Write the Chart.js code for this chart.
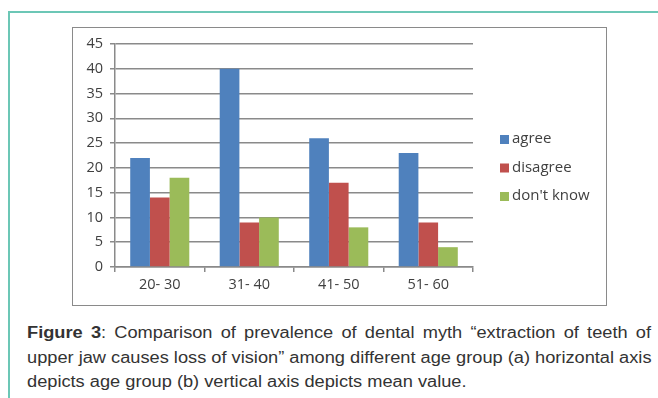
<!DOCTYPE html>
<html>
<head>
<meta charset="utf-8">
<script src="https://cdn.jsdelivr.net/npm/chart.js@4"></script>
<style>
  html, body { margin: 0; padding: 0; background: #fff; }
  body { width: 658px; height: 398px; position: relative; overflow: hidden; }
  #panel {
    position: absolute; left: 8px; top: 11px; width: 700px; height: 420px;
    border-left: 2px solid #6cc7b6; border-top: 2px solid #6cc7b6;
    box-sizing: border-box;
  }
  #frame {
    position: absolute; left: 72px; top: 27px; width: 535px; height: 279px;
    border: 1px solid #8a8a8a; box-sizing: border-box; background: #fff;
  }
  #frame canvas { position: absolute; left: 0; top: 0; }
  #caption {
    position: absolute; left: 27px; top: 321px;
    transform-origin: 0 0;
    font-family: "Liberation Sans", Arial, sans-serif;
    font-size: 16px; line-height: 24.5px; color: #333;
  }
  #caption .ln { white-space: nowrap; display: inline-block; }
  #caption.set .ln { display: block; text-align: justify; text-align-last: justify; }
  #caption.set .ln.last { text-align-last: left; }
  #caption b { font-weight: bold; }
</style>
</head>
<body>
<div id="panel"></div>
<div id="frame"><canvas id="c" width="533" height="277"></canvas></div>
<div id="caption">
  <div class="ln"><b>Figure 3</b>: Comparison of prevalence of dental myth “extraction of teeth of</div><br>
  <div class="ln">upper jaw causes loss of vision” among different age group (a) horizontal axis</div><br>
  <div class="ln last">depicts age group (b) vertical axis depicts mean value.</div>
</div>
<script>
// Age groups and responses
const ageGroups = ["20- 30", "31- 40", "41- 50", "51- 60"];
const agree = [22, 40, 26, 23];
const disagree = [14, 9, 17, 9];
const dontKnow = [18, 10, 8, 4];
const seriesNames = ["agree", "disagree", "don't know"];
const seriesColors = ["#4f81bd", "#c0504d", "#9bbb59"];
const yTicks = [0, 5, 10, 15, 20, 25, 30, 35, 40, 45];

// Caption: fit the text block into its column, last line left-aligned
(function fitCaption() {
  const cap = document.getElementById('caption');
  const lines = cap.querySelectorAll('.ln');
  const colWidth = 624, lastWidth = 451;
  const w2 = lines[1].offsetWidth, w3 = lines[2].offsetWidth;
  const s = Math.min(lastWidth / w3, colWidth / w2);
  cap.querySelectorAll('br').forEach(b => b.remove());
  cap.classList.add('set');
  cap.style.width = (colWidth / s) + 'px';
  cap.style.transform = 'scaleX(' + s + ')';
})();

const fontFamily = "'Open Sans', 'Liberation Sans', sans-serif";
const tickFont = { family: fontFamily, size: 14.5 };

// Legend drawn beside the plot, one square and label per dataset
const sideLegend = {
  id: 'sideLegend',
  afterDraw(chart) {
    const ctx = chart.ctx;
    const x = chart.chartArea.right + 27;
    let y = 111;
    ctx.save();
    ctx.font = "15px " + fontFamily;
    ctx.textBaseline = 'middle';
    chart.data.datasets.forEach(ds => {
      ctx.fillStyle = ds.backgroundColor;
      ctx.fillRect(x, y - 4, 9, 9);
      ctx.fillStyle = '#404040';
      ctx.fillText(ds.label, x + 12, y);
      y += 28.5;
    });
    ctx.restore();
  }
};

new Chart(document.getElementById('c'), {
  type: 'bar',
  data: {
    labels: ageGroups,
    datasets: [agree, disagree, dontKnow].map((vals, i) => ({
      label: seriesNames[i],
      data: vals,
      backgroundColor: seriesColors[i],
      barPercentage: 1,
      categoryPercentage: 0.66
    }))
  },
  options: {
    responsive: false,
    animation: false,
    devicePixelRatio: 1,
    layout: { padding: { left: 0, right: 133, top: 16, bottom: 0 } },
    plugins: { legend: { display: false }, tooltip: { enabled: false } },
    scales: {
      x: {
        offset: true,
        grid: { offset: true, drawOnChartArea: false, drawTicks: true, tickLength: 5, color: '#8a8a8a', lineWidth: 1.5 },
        border: { color: '#8a8a8a', width: 1.5 },
        ticks: { font: tickFont, color: '#404040', padding: 4 },
        afterFit(scale) { scale.height = 38; }
      },
      y: {
        min: 0, max: 45,
        afterBuildTicks(scale) { scale.ticks = yTicks.map(v => ({ value: v })); },
        grid: { color: '#8a8a8a', lineWidth: 1.5, tickLength: 5 },
        border: { color: '#8a8a8a', width: 1.5 },
        ticks: { font: tickFont, color: '#404040', padding: 7 },
        afterFit(scale) { scale.width = 42; }
      }
    }
  },
  plugins: [sideLegend]
});
</script>
</body>
</html>
